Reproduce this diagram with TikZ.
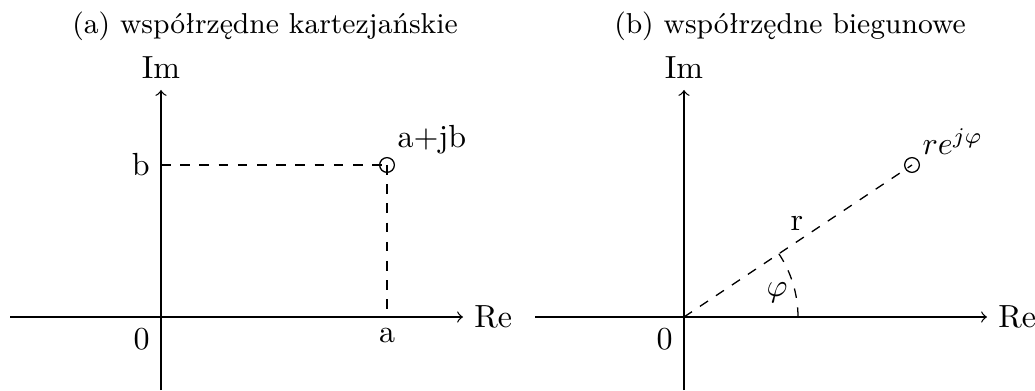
\documentclass[tikz,border=0pt]{standalone}
\usepackage{fontspec}
\usepackage{amsmath}
\usetikzlibrary{positioning}

\begin{document}
\begin{tikzpicture}[
        x=0.3125pt, y=0.3125pt,
        axis/.style={->},
        guide/.style={dashed},
        pnt/.style={circle, draw, inner sep=0pt, minimum size=4.6pt},
        title/.style={font=\small}
    ]
        \useasboundingbox (0,0) rectangle (1035,390);

        \node[title] (titleA) at (265,364) {(a) współrzędne kartezjańskie};
        \node[title] (titleB) at (790,364) {(b) współrzędne biegunowe};

        \coordinate (O1) at (161,73);
        \coordinate (xs1) at (10,73);
        \coordinate (xe1) at (463,73);
        \coordinate (ys1) at (161,0);
        \coordinate (ye1) at (161,300);
        \draw[axis] (xs1) -- (xe1) node[right] (re1) {Re};
        \draw[axis] (ys1) -- (ye1) node[above] (im1) {Im};
        \node[below left] (zero1) at (O1) {0};
        \node[pnt] (p1) at (387,225) {};
        \node[anchor=base west, inner sep=0pt] (lab1) at (397,242) {a+jb};
        \draw[guide] (ye1 |- p1) -- (p1.center);
        \draw[guide] (p1.center) -- (p1 |- O1);
        \node[left] (b1) at (ye1 |- p1) {b};
        \node[below] (a1) at (p1 |- O1) {a};

        \coordinate (O2) at (684,73);
        \coordinate (xs2) at (535,73);
        \coordinate (xe2) at (987,73);
        \coordinate (ys2) at (684,0);
        \coordinate (ye2) at (684,300);
        \draw[axis] (xs2) -- (xe2) node[right] (re2) {Re};
        \draw[axis] (ys2) -- (ye2) node[above] (im2) {Im};
        \node[below left] (zero2) at (O2) {0};
        \node[pnt] (p2) at (912,225) {};
        \node[anchor=base west, inner sep=0pt] (lab2) at (922,235) {$re^{j\varphi}$};
        \draw[guide] (O2) -- (p2.center);
        \coordinate (arcstart) at (798,73);
        \draw[guide] (arcstart) arc[start angle=0, end angle=33.69, radius=114];
        \node (r2) at (797,167) {r};
        \node (phi2) at (777,97) {$\varphi$};
    \end{tikzpicture}
\end{document}
